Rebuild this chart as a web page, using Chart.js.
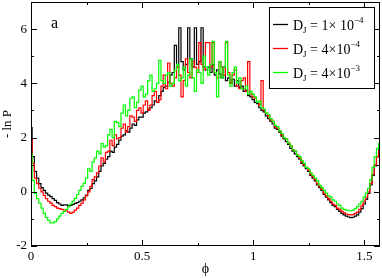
<!DOCTYPE html>
<html>
<head>
<meta charset="utf-8">
<script src="https://cdn.jsdelivr.net/npm/chart.js"></script>
<style>
  html, body { margin: 0; padding: 0; background: #fff; }
  canvas { display: block; }
</style>
</head>
<body>
<canvas id="chart" width="382" height="278"></canvas>
<script>
// phi grid (bin centres)
const phi = [
  0.00, 0.01, 0.02, 0.03, 0.04, 0.05, 0.06, 0.07, 0.08, 0.09,
  0.10, 0.11, 0.12, 0.13, 0.14, 0.15, 0.16, 0.17, 0.18, 0.19,
  0.20, 0.21, 0.22, 0.23, 0.24, 0.25, 0.26, 0.27, 0.28, 0.29,
  0.30, 0.31, 0.32, 0.33, 0.34, 0.35, 0.36, 0.37, 0.38, 0.39,
  0.40, 0.41, 0.42, 0.43, 0.44, 0.45, 0.46, 0.47, 0.48, 0.49,
  0.50, 0.51, 0.52, 0.53, 0.54, 0.55, 0.56, 0.57, 0.58, 0.59,
  0.60, 0.61, 0.62, 0.63, 0.64, 0.65, 0.66, 0.67, 0.68, 0.69,
  0.70, 0.71, 0.72, 0.73, 0.74, 0.75, 0.76, 0.77, 0.78, 0.79,
  0.80, 0.81, 0.82, 0.83, 0.84, 0.85, 0.86, 0.87, 0.88, 0.89,
  0.90, 0.91, 0.92, 0.93, 0.94, 0.95, 0.96, 0.97, 0.98, 0.99,
  1.00, 1.01, 1.02, 1.03, 1.04, 1.05, 1.06, 1.07, 1.08, 1.09,
  1.10, 1.11, 1.12, 1.13, 1.14, 1.15, 1.16, 1.17, 1.18, 1.19,
  1.20, 1.21, 1.22, 1.23, 1.24, 1.25, 1.26, 1.27, 1.28, 1.29,
  1.30, 1.31, 1.32, 1.33, 1.34, 1.35, 1.36, 1.37, 1.38, 1.39,
  1.40, 1.41, 1.42, 1.43, 1.44, 1.45, 1.46, 1.47, 1.48, 1.49,
  1.50, 1.51, 1.52, 1.53, 1.54, 1.55, 1.56, 1.57
];

// -ln P, D_J = 1e-4
const lnP1 = [
  2.37, 1.3, 0.75, 0.5, 0.3, 0.15, 0.05, -0.05, -0.12, -0.18,
  -0.25, -0.32, -0.4, -0.45, -0.5, -0.48, -0.48, -0.52, -0.5, -0.47,
  -0.43, -0.4, -0.35, -0.3, -0.22, -0.12, 0.05, 0.12, 0.3, 0.4,
  0.55, 0.75, 0.95, 1.05, 1.2, 1.3, 1.5, 1.45, 1.65, 1.75,
  1.9, 2.05, 2.1, 2.25, 2.2, 2.35, 2.5, 2.45, 2.65, 2.75,
  2.75, 2.9, 2.95, 3.05, 3.1, 3.2, 3.35, 3.3, 3.55, 3.7,
  3.85, 3.9, 4.05, 4.3, 4.4, 5.4, 4.6, 6.05, 4.8, 4.5,
  4.7, 6.05, 4.9, 4.6, 6.05, 4.7, 4.8, 6.05, 4.6, 4.5,
  4.6, 4.4, 4.7, 4.3, 4.5, 4.35, 4.2, 4.6, 4.1, 4.2,
  4.0, 4.15, 3.9, 4.1, 3.85, 3.9, 3.7, 3.75, 3.55, 3.5,
  3.4, 3.3, 3.25, 3.1, 3.0, 2.95, 2.8, 2.7, 2.6, 2.5,
  2.35, 2.3, 2.2, 2.05, 1.95, 1.85, 1.75, 1.6, 1.5, 1.4,
  1.3, 1.2, 1.05, 0.95, 0.85, 0.75, 0.6, 0.5, 0.4, 0.25,
  0.15, 0.05, -0.1, -0.2, -0.3, -0.4, -0.5, -0.55, -0.65, -0.72,
  -0.8, -0.85, -0.9, -0.93, -0.95, -0.94, -0.9, -0.85, -0.75, -0.62,
  -0.45, -0.28, -0.06, 0.25, 0.6, 0.95, 1.3, 1.55
];

// -ln P, D_J = 4e-4
const lnP2 = [
  1.95, 1.05, 0.5, 0.3, 0.13, 0.0, -0.13, -0.25, -0.35, -0.42,
  -0.5, -0.55, -0.6, -0.62, -0.65, -0.68, -0.7, -0.75, -0.8, -0.75,
  -0.68, -0.6, -0.5, -0.42, -0.3, -0.15, 0.0, 0.2, 0.45, 0.55,
  0.7, 0.95, 1.25, 1.1, 1.45, 1.5, 1.9, 1.7, 2.1, 1.95,
  2.0, 2.35, 2.5, 2.2, 2.4, 2.8, 2.75, 2.6, 3.0, 3.1,
  2.9, 3.2, 3.35, 3.0, 3.2, 3.55, 3.7, 3.3, 3.4, 3.9,
  4.3, 3.8, 4.75, 4.0, 3.9, 4.2, 4.6, 4.3, 3.5, 4.1,
  4.9, 4.4, 4.2, 4.8, 4.6, 4.4, 5.5, 4.7, 4.5, 5.5,
  5.5, 4.6, 5.5, 4.4, 4.2, 4.8, 4.6, 4.3, 5.5, 4.4,
  4.0, 4.3, 4.5, 3.9, 3.8, 4.1, 4.2, 3.7, 4.8, 3.6,
  3.5, 3.45, 3.3, 3.2, 4.1, 3.0, 2.9, 2.8, 2.65, 2.6,
  2.4, 2.35, 2.25, 2.1, 2.0, 1.95, 1.8, 1.7, 1.55, 1.5,
  1.35, 1.25, 1.1, 1.0, 0.9, 0.8, 0.65, 0.55, 0.45, 0.3,
  0.2, 0.1, -0.05, -0.15, -0.25, -0.35, -0.45, -0.5, -0.6, -0.65,
  -0.72, -0.78, -0.82, -0.84, -0.85, -0.84, -0.8, -0.75, -0.65, -0.52,
  -0.35, -0.2, 0.0, 0.3, 0.65, 1.0, 1.3, 1.5
];

// -ln P, D_J = 4e-3
const lnP3 = [
  1.4, 0.42, -0.06, -0.25, -0.42, -0.6, -0.8, -0.95, -1.05, -1.15,
  -1.15, -1.1, -1.0, -0.9, -0.8, -0.72, -0.65, -0.55, -0.45, -0.35,
  -0.24, -0.1, 0.05, 0.2, 0.31, 0.5, 0.85, 0.75, 1.1, 1.25,
  1.5, 1.4, 1.78, 1.65, 1.7, 2.1, 2.3, 2.0, 2.6, 2.55,
  2.4, 2.9, 3.2, 2.8, 3.0, 3.45, 3.5, 3.1, 3.3, 3.75,
  3.9, 3.5, 3.6, 4.1, 4.3, 3.7, 3.8, 4.0, 4.85, 4.1,
  4.0, 4.3, 4.4, 3.9, 4.0, 4.5, 4.7, 4.1, 4.2, 4.6,
  3.9, 4.3, 4.9, 4.2, 3.7, 4.5, 4.4, 4.0, 5.0, 4.6,
  4.3, 4.7, 5.55, 4.4, 3.5, 4.8, 4.2, 4.6, 5.55, 4.3,
  3.9, 4.4, 4.6, 4.0, 4.2, 3.8, 3.8, 3.9, 3.6, 3.7,
  3.6, 3.5, 3.3, 3.35, 3.1, 3.05, 2.9, 2.85, 2.7, 2.6,
  2.45, 2.4, 2.25, 2.15, 2.0, 1.95, 1.8, 1.7, 1.55, 1.5,
  1.35, 1.3, 1.15, 1.05, 0.9, 0.85, 0.7, 0.6, 0.5, 0.4,
  0.25, 0.15, 0.05, -0.05, -0.15, -0.2, -0.3, -0.35, -0.45, -0.5,
  -0.6, -0.65, -0.68, -0.7, -0.7, -0.68, -0.62, -0.55, -0.45, -0.35,
  -0.2, -0.05, 0.13, 0.45, 0.9, 1.3, 1.6, 1.8
];

const legendCoef = ['1\u00d7 10', '4\u00d710', '4\u00d710'];
const legendExp = ['\u22124', '\u22124', '\u22123'];
const colors = ['#000000', '#ff0000', '#00ff00'];

const xTicks = [0, 0.5, 1, 1.5];
const xMinor = [0.25, 0.75, 1.25];
const yTicks = [-2, 0, 2, 4, 6];
const yMinor = [-1, 1, 3, 5];

const serif = 'Liberation Serif, Times New Roman, serif';

function pts(vals) {
  return phi.map((p, i) => ({x: p, y: vals[i]}));
}

// frame + inward ticks on all four sides
const frame = {
  id: 'frame',
  afterDatasetsDraw(chart) {
    const {ctx, chartArea: a, scales: {x, y}} = chart;
    ctx.save();
    ctx.strokeStyle = '#000';
    ctx.lineWidth = 1;
    ctx.strokeRect(a.left + 0.5, a.top + 0.5, a.right - a.left - 1, a.bottom - a.top - 1);
    ctx.beginPath();
    const xt = (v, len) => {
      const px = Math.round(x.getPixelForValue(v)) + 0.5;
      ctx.moveTo(px, a.bottom); ctx.lineTo(px, a.bottom - len);
      ctx.moveTo(px, a.top); ctx.lineTo(px, a.top + len);
    };
    const yt = (v, len) => {
      const py = Math.round(y.getPixelForValue(v)) + 0.5;
      ctx.moveTo(a.left, py); ctx.lineTo(a.left + len, py);
      ctx.moveTo(a.right, py); ctx.lineTo(a.right - len, py);
    };
    xTicks.forEach(v => xt(v, 6));
    xMinor.forEach(v => xt(v, 3));
    yTicks.forEach(v => yt(v, 6));
    yMinor.forEach(v => yt(v, 3));
    ctx.stroke();
    ctx.restore();
  }
};

// boxed legend with sub/superscripts, plus the panel letter
const legendBox = {
  id: 'legendBox',
  afterDraw(chart) {
    const {ctx, chartArea: a} = chart;
    const w = 105, h = 81;
    const bx = a.right - 6 - w, by = a.top + 5;
    ctx.save();
    ctx.fillStyle = '#fff';
    ctx.fillRect(bx, by, w, h);
    ctx.strokeStyle = '#000';
    ctx.lineWidth = 1;
    ctx.strokeRect(bx + 0.5, by + 0.5, w, h);
    chart.data.datasets.forEach((ds, i) => {
      const ly = Math.round(by + 17 + 24 * i) + 0.5;
      ctx.strokeStyle = colors[i];
      ctx.lineWidth = 1.3;
      ctx.beginPath();
      ctx.moveTo(bx + 4, ly);
      ctx.lineTo(bx + 19, ly);
      ctx.stroke();
      ctx.fillStyle = '#000';
      ctx.textAlign = 'left';
      ctx.textBaseline = 'alphabetic';
      let tx = bx + 24;
      const base = ly + 5;
      ctx.font = '14px ' + serif;
      ctx.fillText('D', tx, base);
      tx += ctx.measureText('D').width;
      ctx.font = '9px ' + serif;
      ctx.fillText('J', tx, base + 3);
      tx += ctx.measureText('J').width;
      ctx.font = '14px ' + serif;
      const mid = ' = ' + legendCoef[i];
      ctx.fillText(mid, tx, base);
      tx += ctx.measureText(mid).width;
      ctx.font = '9px ' + serif;
      ctx.fillText(legendExp[i], tx, base - 7);
    });
    ctx.font = '16px ' + serif;
    ctx.fillStyle = '#000';
    ctx.fillText('a', a.left + 20, a.top + 26);
    ctx.restore();
  }
};

new Chart(document.getElementById('chart'), {
  type: 'line',
  data: {
    datasets: [
      {label: 'D_J = 1\u00d710^-4', data: pts(lnP1), borderColor: colors[0], order: 3},
      {label: 'D_J = 4\u00d710^-4', data: pts(lnP2), borderColor: colors[1], order: 2},
      {label: 'D_J = 4\u00d710^-3', data: pts(lnP3), borderColor: colors[2], order: 1}
    ]
  },
  options: {
    responsive: false,
    animation: false,
    devicePixelRatio: 1,
    layout: {padding: {top: 2, right: 2, left: 0, bottom: 0}},
    elements: {
      point: {radius: 0},
      line: {borderWidth: 1.2, stepped: 'middle', tension: 0, fill: false}
    },
    plugins: {legend: {display: false}, tooltip: {enabled: false}},
    scales: {
      x: {
        type: 'linear',
        min: 0,
        max: Math.PI / 2,
        grid: {display: false, drawTicks: false},
        border: {display: false},
        afterBuildTicks: s => { s.ticks = xTicks.map(v => ({value: v})); },
        afterFit: s => { s.height = 32; s.paddingLeft = 0; s.paddingRight = 0; },
        ticks: {padding: 3, color: '#000', maxRotation: 0, autoSkip: false,
                font: {family: serif, size: 13}, callback: v => String(v)},
        title: {display: true, text: '\u03d5', color: '#000', padding: 0,
                font: {family: serif, size: 14}}
      },
      y: {
        min: -2,
        max: 7,
        grid: {display: false, drawTicks: false},
        border: {display: false},
        afterBuildTicks: s => { s.ticks = yTicks.map(v => ({value: v})); },
        afterFit: s => { s.width = 31; s.paddingTop = 0; s.paddingBottom = 0; },
        ticks: {padding: 4, color: '#000', autoSkip: false,
                font: {family: serif, size: 13}, callback: v => String(v)},
        title: {display: true, text: '- ln P', color: '#000', padding: 0,
                font: {family: serif, size: 13}}
      }
    }
  },
  plugins: [frame, legendBox]
});
</script>
</body>
</html>
